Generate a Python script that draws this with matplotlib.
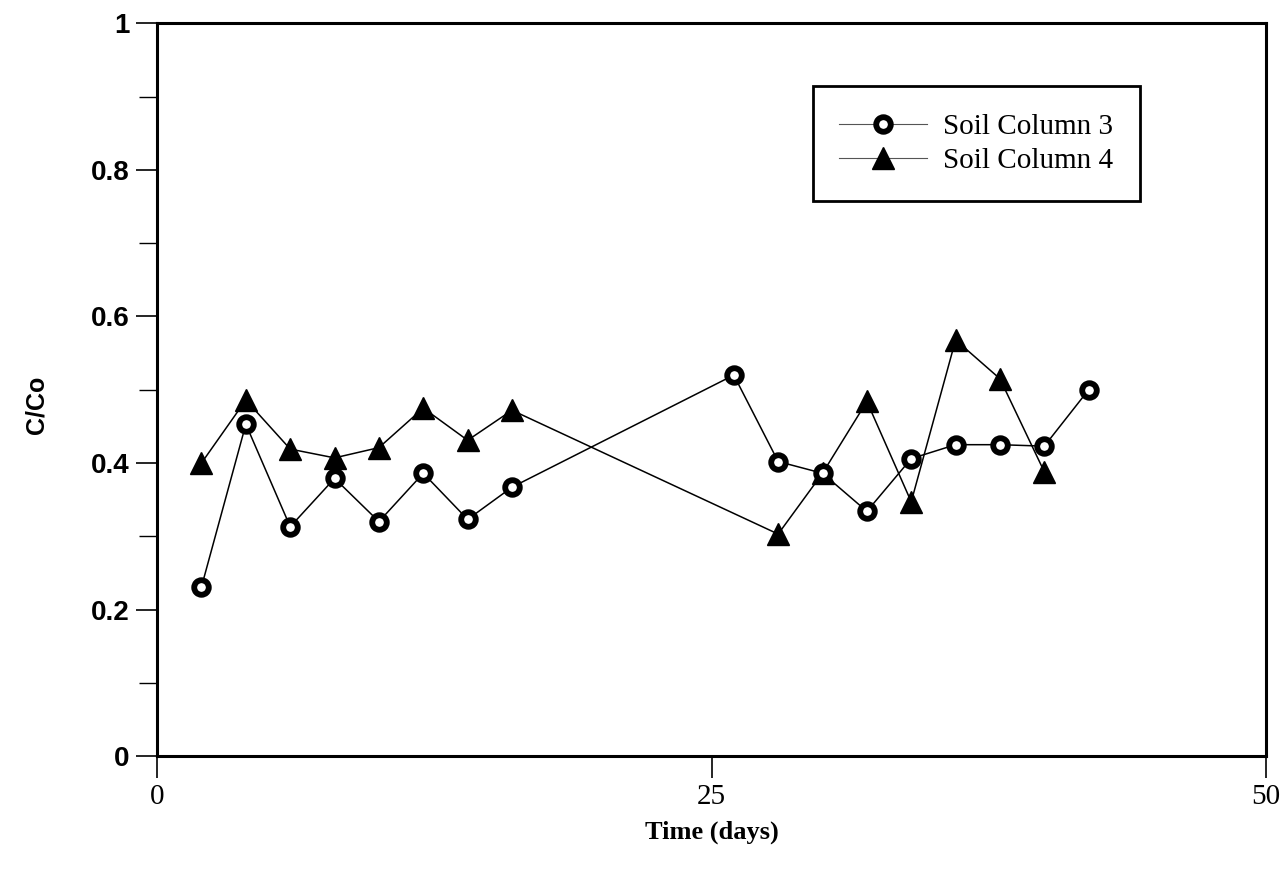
import numpy as np
import matplotlib.pyplot as plt

# Soil column 3 (open circles)
days_c3 = [2, 4, 6, 8, 10, 12, 14, 16, 26, 28, 30, 32, 34, 36, 38, 40, 42]
cco_c3 = [0.231, 0.453, 0.313, 0.379, 0.320, 0.386, 0.323, 0.367,
          0.520, 0.402, 0.386, 0.334, 0.406, 0.425, 0.425, 0.423, 0.500]

# Soil column 4 (filled triangles)
days_c4 = [2, 4, 6, 8, 10, 12, 14, 16, 28, 30, 32, 34, 36, 38, 40]
cco_c4 = [0.400, 0.486, 0.419, 0.407, 0.421, 0.475, 0.431, 0.472,
          0.303, 0.386, 0.484, 0.347, 0.568, 0.515, 0.388]

y_ticks = [0, 0.2, 0.4, 0.6, 0.8, 1]
y_labels = ['0', '0.2', '0.4', '0.6', '0.8', '1']
y_minor = [0.1, 0.3, 0.5, 0.7, 0.9]
x_ticks = [0, 25, 50]

serif = ['Liberation Serif', 'DejaVu Serif']
sans = ['Liberation Sans', 'DejaVu Sans']

fig = plt.figure(figsize=(12.88, 8.69), dpi=100)
ax = fig.add_axes([0.122, 0.130, 0.861, 0.843])

ax.plot(days_c3, cco_c3, color='black', lw=1.1, marker='o', ms=10.5,
        mfc='white', mec='black', mew=4.2, label='Soil Column 3', zorder=3)
ax.plot(days_c4, cco_c4, color='black', lw=1.1, marker='^', ms=16,
        mfc='black', mec='black', label='Soil Column 4', zorder=2)

ax.set_xlim(0, 50)
ax.set_ylim(0, 1)
ax.set_xticks(x_ticks)
ax.set_xticklabels([str(v) for v in x_ticks], family=serif, fontsize=21)
ax.set_yticks(y_ticks)
ax.set_yticklabels(y_labels, family=sans, fontweight='bold', fontsize=20)
ax.set_yticks(y_minor, minor=True)

for s in ax.spines.values():
    s.set_linewidth(2.2)

ax.tick_params(axis='y', which='major', length=15, width=1.2, direction='out', pad=5)
ax.tick_params(axis='y', which='minor', length=13, width=1.0, direction='out')
ax.tick_params(axis='x', which='major', length=16, width=1.2, direction='out', pad=4)

ax.set_ylabel('C/Co', family=sans, fontweight='bold', fontsize=18)
ax.yaxis.set_label_coords(-0.098, 0.48)
ax.set_xlabel('Time (days)', family=serif, fontweight='bold', fontsize=19, labelpad=8)

leg = ax.legend(loc='upper left', bbox_to_anchor=(0.591, 0.914), numpoints=1,
                handlelength=3.0, handletextpad=0.55, borderpad=0.92,
                borderaxespad=0, fancybox=False, framealpha=1, edgecolor='black',
                prop={'family': serif, 'size': 21}, labelspacing=0.28)
leg.get_frame().set_linewidth(2.0)
for h in leg.legend_handles:
    h.set_linewidth(0.8)
    h.set_color('#555555')
    h.set_markeredgecolor('black')

fig.savefig('out.png', dpi=100)
